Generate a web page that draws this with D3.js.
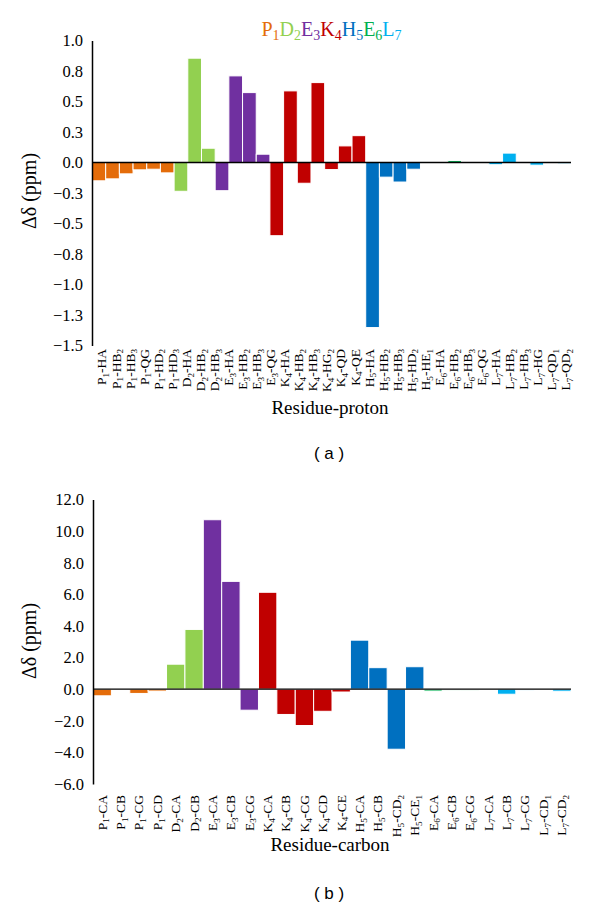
<!DOCTYPE html>
<html><head><meta charset="utf-8">
<script src="https://cdn.jsdelivr.net/npm/d3@7/dist/d3.min.js"></script>
<style>
html,body{margin:0;padding:0;background:#fff;}
svg{display:block;}
</style></head>
<body>
<svg id="chart" width="600" height="909"></svg>
<script>
// ---------- data ----------
const residueLetters = ["P","D","E","K","H","E","L"];
const residueNumbers = ["1","2","3","4","5","6","7"];
const residueColors  = ["#E46C0A","#92D050","#7030A0","#C00000","#0070C0","#00B050","#00B0F0"];

// Panel (a): residue-proton (35 bars, 34 printed labels)
const protonLabels = ["P1-HA","P1-HB2","P1-HB3","P1-QG","P1-HD2","P1-HD3","D2-HA","D2-HB2","D2-HB3",
  "E3-HA","E3-HB2","E3-HB3","E3-QG","K4-HA","K4-HB2","K4-HB3","K4-HG2","K4-QD","K4-QE",
  "H5-HA","H5-HB2","H5-HB3","H5-HD2","H5-HE1","E6-HA","E6-HB2","E6-HB3","E6-QG",
  "L7-HA","L7-HB2","L7-HB3","L7-HG","L7-QD1","L7-QD2"];
const protonValues = [-0.15,-0.134,-0.093,-0.06,-0.055,-0.085,
  -0.236,0.855,0.117,
  -0.231,0.71,0.573,0.068,
  -0.60,0.587,-0.17,0.655,-0.058,0.136,0.22,
  -1.353,-0.12,-0.16,-0.055,0.003,
  0.004,0.016,0.003,0.003,
  -0.018,0.077,-0.003,-0.022,-0.004,-0.01];
const protonGroups = [0,0,0,0,0,0, 1,1,1, 2,2,2,2, 3,3,3,3,3,3,3, 4,4,4,4,4, 5,5,5,5, 6,6,6,6,6,6];
const protonTicks = [1.0,0.75,0.5,0.25,0,-0.25,-0.5,-0.75,-1.0,-1.25,-1.5];

// Panel (b): residue-carbon
const carbonLabels = ["P1-CA","P1-CB","P1-CG","P1-CD","D2-CA","D2-CB","E3-CA","E3-CB","E3-CG",
  "K4-CA","K4-CB","K4-CG","K4-CD","K4-CE","H5-CA","H5-CB","H5-CD2","H5-CE1",
  "E6-CA","E6-CB","E6-CG","L7-CA","L7-CB","L7-CG","L7-CD1","L7-CD2"];
const carbonValues = [-0.42,-0.02,-0.27,-0.12,1.58,3.78,10.72,6.82,-1.33,
  6.13,-1.6,-2.3,-1.4,-0.18,3.1,1.36,-3.8,1.42,
  -0.12,-0.06,-0.06,-0.05,-0.32,-0.06,-0.05,-0.13];
const carbonGroups = [0,0,0,0, 1,1, 2,2,2, 3,3,3,3,3, 4,4,4,4, 5,5,5, 6,6,6,6,6];
const carbonTicks = [12,10,8,6,4,2,0,-2,-4,-6];

// ---------- drawing ----------
const svg = d3.select("#chart");
const SERIF = "'Liberation Serif','Times New Roman',serif";
const SANS = "'Liberation Sans',Arial,sans-serif";

function labelParts(s){
  const m = s.match(/^([A-Z])(\d)(-[A-Z]+)(\d?)$/);
  return m ? m.slice(1) : [s,"","",""];
}

function panel(cfg){
  const g = svg.append("g");
  const x = d3.scaleBand().domain(d3.range(cfg.values.length)).range([cfg.x0,cfg.x1]).padding(0);
  const y = d3.scaleLinear().domain(cfg.domain).range(cfg.yRange);

  g.selectAll("rect.bar").data(cfg.values).join("rect")
    .attr("class","bar")
    .attr("x",(d,i)=>x(i))
    .attr("width",x.bandwidth())
    .attr("y",d=>y(Math.max(0,d)))
    .attr("height",d=>Math.abs(y(d)-y(0)))
    .attr("fill",(d,i)=>residueColors[cfg.groups[i]])
    .attr("stroke","#fff").attr("stroke-width",1);

  g.append("line").attr("x1",cfg.x0).attr("x2",cfg.x1)
    .attr("y1",y(0)).attr("y2",y(0)).attr("stroke","#000").attr("stroke-width",1.4);

  const ax = g.append("g").attr("transform",`translate(${cfg.x0},0)`)
    .call(d3.axisLeft(y).tickValues(cfg.ticks).tickFormat(d3.format(".1f")).tickSize(0).tickSizeOuter(0).tickPadding(9));
  ax.select(".domain").attr("stroke","#000").attr("stroke-width",1.5);
  ax.selectAll("text").attr("font-family",SERIF).attr("font-size",16.5).attr("fill","#000");

  g.append("text").attr("transform",`translate(36,${cfg.yMid}) rotate(-90)`)
    .attr("text-anchor","middle").attr("font-family",SERIF).attr("font-size",20)
    .text("Δδ (ppm)");

  const xl = d3.scalePoint().domain(cfg.labels).range(cfg.labelRange);
  const fs = 13.5;
  cfg.labels.forEach(lab=>{
    const p = labelParts(lab);
    const t = g.append("text")
      .attr("transform",`translate(${xl(lab)+fs*0.33},${cfg.labelTop}) rotate(-90)`)
      .attr("text-anchor","end").attr("font-family",SERIF).attr("font-size",fs).attr("fill","#000");
    t.append("tspan").text(p[0]);
    t.append("tspan").attr("font-size",fs*0.68).attr("dy",2.7).text(p[1]);
    t.append("tspan").attr("dy",-2.7).text(p[2]);
    if(p[3]){ t.append("tspan").attr("font-size",fs*0.68).attr("dy",2.7).text(p[3]); }
  });

  g.append("text").attr("x",cfg.titleX).attr("y",cfg.titleY).attr("text-anchor","middle")
    .attr("font-family",SERIF).attr("font-size",19).text(cfg.title);
  g.append("text").attr("x",cfg.tagX).attr("y",cfg.tagY).attr("text-anchor","middle")
    .attr("font-family",SANS).attr("font-size",17).text(cfg.tag);
}

panel({values:protonValues, groups:protonGroups, labels:protonLabels, ticks:protonTicks,
  domain:[-1.5,1.0], yRange:[345.5,40.5], yMid:191, x0:92, x1:571, labelRange:[102,566], labelTop:349,
  title:"Residue-proton", titleX:330, titleY:414, tag:"( a )", tagX:329, tagY:459});

panel({values:carbonValues, groups:carbonGroups, labels:carbonLabels, ticks:carbonTicks,
  domain:[-6,12], yRange:[784,499.5], yMid:641, x0:93, x1:571, labelRange:[102.2,561.8], labelTop:795,
  title:"Residue-carbon", titleX:330, titleY:851, tag:"( b )", tagX:329, tagY:899});

// legend title (coloured residue letters)
const lt = svg.append("text").attr("x",331.5).attr("y",36).attr("text-anchor","middle")
  .attr("font-family",SERIF).attr("font-size",20);
residueLetters.forEach((r,i)=>{
  lt.append("tspan").attr("fill",residueColors[i]).attr("dy",i===0?0:-4).text(r);
  lt.append("tspan").attr("fill",residueColors[i]).attr("font-size",14).attr("dy",4).text(residueNumbers[i]);
});
</script>
</body></html>
